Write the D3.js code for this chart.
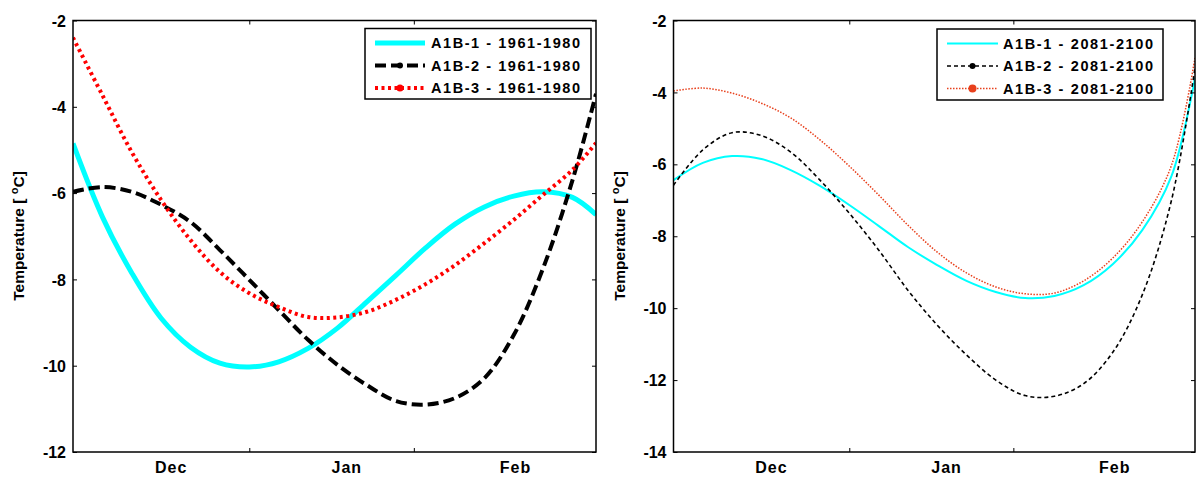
<!DOCTYPE html>
<html><head><meta charset="utf-8">
<script src="https://cdn.jsdelivr.net/npm/d3@7"></script>
<style>
body{margin:0;background:#fff;}
text{font-family:"Liberation Sans",Arial,sans-serif;font-weight:bold;fill:#000;}
</style></head>
<body><svg id="c" width="1197" height="478"></svg>
<script>
// ---- data ----
const days = [1,6,11,16,21,26,31,36,41,46,51,56,61,66,71,76,81,86,90];
const monthLabels = ["Dec","Jan","Feb"];
const monthLabelDays = [17.7,47.6,76.3];
const monthTickDays = [31,59];

// left panel: 1961-1980
const leftSeriesNames = ["A1B-1 - 1961-1980","A1B-2 - 1961-1980","A1B-3 - 1961-1980"];
const leftA1 = [-4.85,-6.55,-7.85,-8.9,-9.57,-9.94,-10.03,-9.91,-9.6,-9.13,-8.52,-7.9,-7.27,-6.72,-6.32,-6.07,-5.97,-6.1,-6.5];
const leftA2 = [-5.97,-5.86,-5.97,-6.27,-6.67,-7.32,-8.01,-8.71,-9.4,-9.98,-10.45,-10.82,-10.9,-10.75,-10.29,-9.29,-7.74,-5.7,-3.7];
const leftA3 = [-2.4,-3.73,-5.05,-6.16,-7.09,-7.83,-8.32,-8.64,-8.87,-8.88,-8.75,-8.47,-8.11,-7.67,-7.16,-6.62,-6.04,-5.46,-4.84];
const leftYTicks = [-2,-4,-6,-8,-10,-12];

// right panel: 2081-2100
const rightSeriesNames = ["A1B-1 - 2081-2100","A1B-2 - 2081-2100","A1B-3 - 2081-2100"];
const rightA1 = [-6.44,-5.96,-5.77,-5.85,-6.16,-6.6,-7.13,-7.71,-8.3,-8.8,-9.24,-9.55,-9.72,-9.66,-9.36,-8.77,-7.83,-6.32,-3.6];
const rightA2 = [-6.58,-5.6,-5.12,-5.2,-5.66,-6.44,-7.36,-8.38,-9.5,-10.47,-11.3,-12.0,-12.43,-12.45,-12.1,-11.22,-9.63,-6.99,-3.32];
const rightA3 = [-3.96,-3.88,-4.02,-4.3,-4.71,-5.32,-6.05,-6.85,-7.69,-8.44,-9.02,-9.41,-9.6,-9.58,-9.24,-8.6,-7.6,-6.02,-3.04];
const rightYTicks = [-2,-4,-6,-8,-10,-12,-14];

const svg = d3.select("#c");

function panel(cfg){
  const g = svg.append("g");
  const x = d3.scaleLinear().domain([1,90]).range([cfg.x0,cfg.x1]);
  const y = d3.scaleLinear().domain(cfg.yDomain).range([452,20.5]);
  const cid = "clip"+cfg.id;
  svg.append("clipPath").attr("id",cid).append("rect")
    .attr("x",cfg.x0).attr("y",20.5).attr("width",cfg.x1-cfg.x0).attr("height",452-20.5);
  const line = d3.line().x((d,i)=>x(days[i])).y(d=>y(d)).curve(d3.curveCatmullRom.alpha(0.5));
  const lg = g.append("g").attr("clip-path",`url(#${cid})`);
  cfg.series.forEach(s=>{
    lg.append("path").attr("d",line(s.values)).attr("fill","none")
      .attr("stroke",s.color).attr("stroke-width",s.width)
      .attr("stroke-dasharray",s.dash||null);
  });
  // frame
  g.append("rect").attr("x",cfg.x0).attr("y",20.5).attr("width",cfg.x1-cfg.x0).attr("height",452-20.5)
    .attr("fill","none").attr("stroke","#000").attr("stroke-width",1.5);
  // y axis
  const ya = d3.axisLeft(y).tickValues(cfg.yTicks).tickSize(-4).tickPadding(7).tickFormat(d=>String(d));
  const yg = g.append("g").attr("transform",`translate(${cfg.x0},0)`).call(ya);
  yg.select(".domain").remove();
  yg.selectAll("text").style("font-size","16px").attr("dy","0.35em");
  yg.selectAll("line").attr("stroke","#000");
  const ya2 = d3.axisRight(y).tickValues(cfg.yTicks).tickSize(-4).tickFormat("");
  const yg2 = g.append("g").attr("transform",`translate(${cfg.x1},0)`).call(ya2);
  yg2.select(".domain").remove();
  // x ticks
  const xa = d3.axisBottom(x).tickValues(monthTickDays).tickSize(-4).tickFormat("");
  const xg = g.append("g").attr("transform","translate(0,452)").call(xa);
  xg.select(".domain").remove();
  const xa2 = d3.axisTop(x).tickValues(monthTickDays).tickSize(-4).tickFormat("");
  const xg2 = g.append("g").attr("transform","translate(0,20.5)").call(xa2);
  xg2.select(".domain").remove();
  // month labels
  g.selectAll("text.m").data(monthLabels).join("text").attr("class","m")
    .attr("x",(d,i)=>x(monthLabelDays[i])).attr("y",473).attr("text-anchor","middle")
    .style("font-size","16px").style("letter-spacing","1px").text(d=>d);
  // y title
  const t = g.append("text").attr("transform",`translate(${cfg.titleX},236) rotate(-90)`)
    .attr("text-anchor","middle").style("font-size","15.5px");
  t.append("tspan").text("Temperature [ ");
  t.append("tspan").text("o").attr("dy","-6").style("font-size","11px");
  t.append("tspan").text("C]").attr("dy","6");
  // legend
  const L = cfg.legend;
  g.append("rect").attr("x",L.x).attr("y",L.y).attr("width",L.w).attr("height",L.h)
    .attr("fill","#fff").attr("stroke","#000").attr("stroke-width",1.5);
  cfg.series.forEach((s,i)=>{
    const yy = L.y + 14.5 + i*22.5;
    g.append("line").attr("x1",L.lx0).attr("x2",L.lx1).attr("y1",yy).attr("y2",yy)
      .attr("stroke",s.color).attr("stroke-width",s.width).attr("stroke-dasharray",s.dash||null);
    if(s.marker){
      g.append("circle").attr("cx",(L.lx0+L.lx1)/2).attr("cy",yy).attr("r",s.marker.r).attr("fill",s.marker.fill);
    }
    g.append("text").attr("x",L.tx).attr("y",yy).attr("dy","0.36em").style("font-size","14.5px")
      .attr("textLength",L.tw).attr("lengthAdjust","spacing")
      .text(cfg.names[i]);
  });
}

panel({
  id:"L", x0:73, x1:596, yDomain:[-12,-2], yTicks:leftYTicks, titleX:24,
  names:leftSeriesNames,
  series:[
    {values:leftA1,color:"#00ffff",width:5},
    {values:leftA2,color:"#000",width:4,dash:"11,5",marker:{r:3,fill:"#000"}},
    {values:leftA3,color:"#ff0000",width:4,dash:"3,3.5",marker:{r:3.5,fill:"#ff0000"}}
  ],
  legend:{x:365,y:28.5,w:226,h:70.5,lx0:375,lx1:425,tx:431,tw:149}
});
panel({
  id:"R", x0:673.5, x1:1195, yDomain:[-14,-2], yTicks:rightYTicks, titleX:625,
  names:rightSeriesNames,
  series:[
    {values:rightA1,color:"#00ffff",width:2},
    {values:rightA2,color:"#000",width:1.6,dash:"4,3",marker:{r:3,fill:"#000"}},
    {values:rightA3,color:"#e8401c",width:1.5,dash:"1.5,1.5",marker:{r:4,fill:"#e8401c"}}
  ],
  legend:{x:937,y:29,w:226,h:71,lx0:947,lx1:998,tx:1003,tw:150}
});
</script></body></html>
